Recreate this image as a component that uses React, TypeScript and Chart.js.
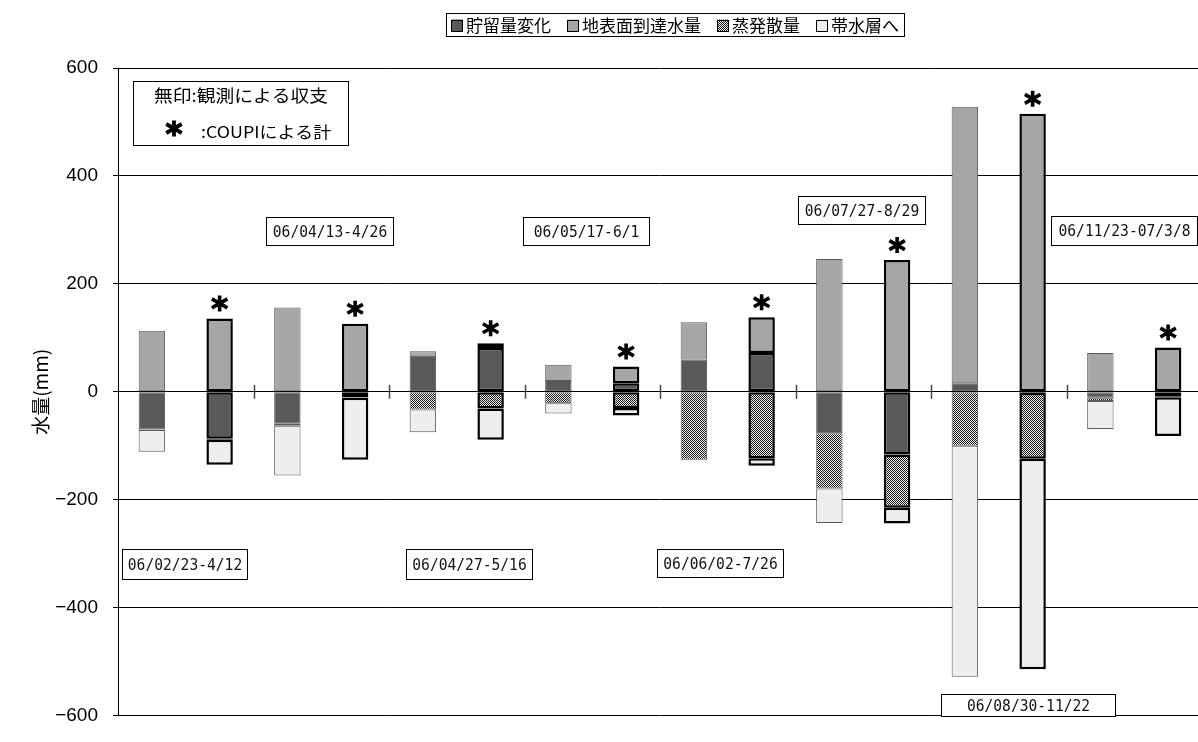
import React, { useEffect, useRef } from "react";
import { Chart, registerables } from "chart.js";

Chart.register(...registerables);

// ---------- data ----------
const periodLabels = [
  "06/02/23-4/12",
  "06/04/13-4/26",
  "06/04/27-5/16",
  "06/05/17-6/1",
  "06/06/02-7/26",
  "06/07/27-8/29",
  "06/08/30-11/22",
  "06/11/23-07/3/8",
];
// two bars per period: observed balance, then COUP model
const categories = periodLabels.flatMap((p) => [p + " 観測", p + " COUP"]);

const seriesNames = ["貯留量変化", "地表面到達水量", "蒸発散量", "帯水層へ"];
const storage = [-70, -87, -59, -10, 67, 81, 20, 16, 60, 72, -77, -116, 16, -2, -11, -9];
const surface = [113, 136, 156, 126, 8, 9, 30, 31, 69, 66, 246, 244, 512, 515, 72, 82];
const evap = [-1, -2, -4, -1, -33, -31, -21, -30, -126, -123, -102, -99, -100, -122, -6, -1];
const aquifer = [-40, -46, -92, -115, -42, -58, -19, -14, -1, -14, -64, -29, -428, -390, -52, -72];
const yTickValues = [-600, -400, -200, 0, 200, 400, 600];

const noteLine1 = "無印:観測による収支";
const noteLine2 = ":COUPIによる計";
const yTitle = "水量(mm)";

// ---------- layout (pixels) ----------
const periodBoxes = [
  { x: 122, y: 549, w: 125, h: 30 },
  { x: 266, y: 217, w: 127, h: 28 },
  { x: 406, y: 549, w: 126, h: 30 },
  { x: 523, y: 217, w: 126, h: 28 },
  { x: 657, y: 549, w: 126, h: 28 },
  { x: 798, y: 196, w: 127, h: 28 },
  { x: 941, y: 694, w: 174, h: 22 },
  { x: 1051, y: 216, w: 146, h: 29 },
];
const legendBox = { x: 446, y: 13, w: 458, h: 23 };
const noteBox = { x: 133, y: 81, w: 215, h: 64 };

const JP = "'Noto Sans CJK JP', 'Noto Sans', sans-serif";

function makeHatch(ctx: CanvasRenderingContext2D) {
  const c = document.createElement("canvas");
  c.width = 2;
  c.height = 2;
  const g = c.getContext("2d")!;
  g.fillStyle = "#f4f4f4";
  g.fillRect(0, 0, 2, 2);
  g.fillStyle = "#141414";
  g.fillRect(0, 0, 1, 1);
  g.fillRect(1, 1, 1, 1);
  return ctx.createPattern(c, "repeat")!;
}

function drawAsterisk(ctx: CanvasRenderingContext2D, cx: number, cy: number, r: number, lw: number) {
  ctx.save();
  ctx.strokeStyle = "#000";
  ctx.lineWidth = lw;
  ctx.lineCap = "butt";
  ctx.beginPath();
  ctx.moveTo(cx, cy - r);
  ctx.lineTo(cx, cy + r);
  const a = Math.PI / 6;
  const rr = r * 1.12;
  const dx = rr * Math.cos(a);
  const dy = rr * Math.sin(a);
  ctx.moveTo(cx - dx, cy - dy);
  ctx.lineTo(cx + dx, cy + dy);
  ctx.moveTo(cx - dx, cy + dy);
  ctx.lineTo(cx + dx, cy - dy);
  ctx.stroke();
  ctx.restore();
}

function fitText(ctx: CanvasRenderingContext2D, text: string, left: number, cy: number, width: number) {
  const m = ctx.measureText(text).width;
  const s = width / m;
  ctx.save();
  ctx.translate(left, cy);
  ctx.scale(s, 1);
  ctx.textAlign = "left";
  ctx.textBaseline = "middle";
  ctx.fillText(text, 0, 0);
  ctx.restore();
}

export default function App() {
  const ref = useRef<HTMLCanvasElement>(null);

  useEffect(() => {
    const canvas = ref.current!;
    const ctx0 = canvas.getContext("2d")!;
    const hatch = makeHatch(ctx0);
    const fills: (string | CanvasPattern)[] = ["#595959", "#a6a6a6", hatch, "#eeeeee"];
    const isModel = categories.map((_, i) => i % 2 === 1);
    const bw = isModel.map((m) => (m ? 2.5 : 1));
    const bc = isModel.map((m) => (m ? "#000000" : "#5a5a5a"));
    const seriesData = [storage, surface, evap, aquifer];

    const overlay = {
      id: "overlay",
      afterDatasetsDraw(chart: any) {
        const ctx: CanvasRenderingContext2D = chart.ctx;
        const xs = chart.scales.x;
        const ys = chart.scales.y;
        const y0 = ys.getPixelForValue(0);
        // group separator ticks on the zero line
        ctx.save();
        ctx.strokeStyle = "#444";
        ctx.lineWidth = 1.5;
        for (let k = 1; k < periodLabels.length; k++) {
          const x = (xs.getPixelForValue(2 * k - 1) + xs.getPixelForValue(2 * k)) / 2;
          ctx.beginPath();
          ctx.moveTo(Math.round(x) + 0.5, y0 - 7);
          ctx.lineTo(Math.round(x) + 0.5, y0 + 7);
          ctx.stroke();
        }
        ctx.restore();
        // asterisks over model bars
        categories.forEach((_, i) => {
          if (!isModel[i]) return;
          let top = 0;
          seriesData.forEach((s) => {
            if (s[i] > 0) top += s[i];
          });
          const x = xs.getPixelForValue(i);
          const y = ys.getPixelForValue(top) - 15;
          drawAsterisk(ctx, x, y, 8, 3.6);
        });
      },
      afterDraw(chart: any) {
        const ctx: CanvasRenderingContext2D = chart.ctx;
        ctx.save();
        // period label boxes
        ctx.font = "16.5px 'DejaVu Sans Mono', monospace";
        periodLabels.forEach((t, i) => {
          const b = periodBoxes[i];
          ctx.fillStyle = "#fff";
          ctx.fillRect(b.x, b.y, b.w, b.h);
          ctx.strokeStyle = "#000";
          ctx.lineWidth = 1;
          ctx.strokeRect(b.x + 0.5, b.y + 0.5, b.w, b.h);
          ctx.fillStyle = "#111";
          const tw = t.length * 8.8;
          fitText(ctx, t, b.x + b.w / 2 - tw / 2 + 0.5, b.y + b.h / 2 + 1.5, tw);
        });
        // note box
        ctx.fillStyle = "#fff";
        ctx.fillRect(noteBox.x, noteBox.y, noteBox.w, noteBox.h);
        ctx.strokeStyle = "#000";
        ctx.lineWidth = 1;
        ctx.strokeRect(noteBox.x + 0.5, noteBox.y + 0.5, noteBox.w, noteBox.h);
        ctx.fillStyle = "#000";
        ctx.font = "17px " + JP;
        fitText(ctx, noteLine1, 154, 96, 174);
        ctx.font = "16px " + JP;
        fitText(ctx, noteLine2, 201, 132, 130);
        drawAsterisk(ctx, 174, 128.5, 8, 3.8);
        // top legend
        ctx.font = "17px " + JP;
        const sq = 12;
        const gapBT = 3;
        const pad = 5;
        const widths = seriesNames.map((n) => ctx.measureText(n).width);
        const itemsW = widths.reduce((a, w) => a + sq + gapBT + w, 0);
        const itemGap = (legendBox.w - 2 * pad - itemsW) / (seriesNames.length - 1);
        ctx.fillStyle = "#fff";
        ctx.fillRect(legendBox.x, legendBox.y, legendBox.w, legendBox.h);
        ctx.strokeStyle = "#000";
        ctx.strokeRect(legendBox.x + 0.5, legendBox.y + 0.5, legendBox.w, legendBox.h);
        let x = legendBox.x + pad;
        const cy = legendBox.y + legendBox.h / 2 + 1;
        seriesNames.forEach((n, i) => {
          ctx.fillStyle = fills[i] as any;
          ctx.fillRect(x, cy - sq / 2, sq, sq);
          ctx.strokeStyle = "#000";
          ctx.strokeRect(Math.round(x) + 0.5, Math.round(cy - sq / 2) + 0.5, sq - 1, sq - 1);
          ctx.fillStyle = "#000";
          ctx.textAlign = "left";
          ctx.textBaseline = "middle";
          ctx.fillText(n, x + sq + gapBT, cy);
          x += sq + gapBT + widths[i] + itemGap;
        });
        ctx.restore();
      },
    };

    const chart = new Chart(canvas, {
      type: "bar",
      data: {
        labels: categories,
        datasets: seriesNames.map((name, i) => ({
          label: name,
          data: seriesData[i],
          backgroundColor: fills[i] as any,
          borderColor: bc,
          borderWidth: bw,
          borderSkipped: false,
          barPercentage: 0.39,
          categoryPercentage: 1,
        })),
      },
      options: {
        responsive: false,
        animation: false,
        layout: { padding: { top: 68, bottom: 13, left: 0, right: 4 } },
        plugins: {
          legend: { display: false },
          tooltip: { enabled: false },
        },
        scales: {
          x: {
            stacked: true,
            display: false,
          },
          y: {
            stacked: true,
            min: -600,
            max: 600,
            afterBuildTicks(scale: any) {
              scale.ticks = yTickValues.map((v) => ({ value: v }));
            },
            afterFit(scale: any) {
              scale.width = 118;
            },
            ticks: {
              padding: 15,
              color: "#000",
              font: { family: "'Liberation Sans', Arial, sans-serif", size: 19 },
              callback: (v: any) => (Number(v) < 0 ? "\u2212" + Math.abs(Number(v)) : String(v)),
            },
            grid: {
              color: "#000",
              lineWidth: 1,
              tickLength: 5,
              drawTicks: true,
            },
            border: { display: true, color: "#000", width: 1 },
            title: {
              display: true,
              text: yTitle,
              color: "#000",
              font: { family: JP, size: 19 },
              padding: { top: 29, bottom: 0 },
            },
          },
        },
      },
      plugins: [overlay],
    });

    return () => chart.destroy();
  }, []);

  return (
    <div
      style={{
        position: "absolute",
        left: 0,
        top: 0,
        width: 1198,
        height: 742,
        overflow: "hidden",
        background: "#fff",
      }}
    >
      <canvas ref={ref} width={1206} height={742} style={{ display: "block", width: 1206, height: 742 }} />
    </div>
  );
}
